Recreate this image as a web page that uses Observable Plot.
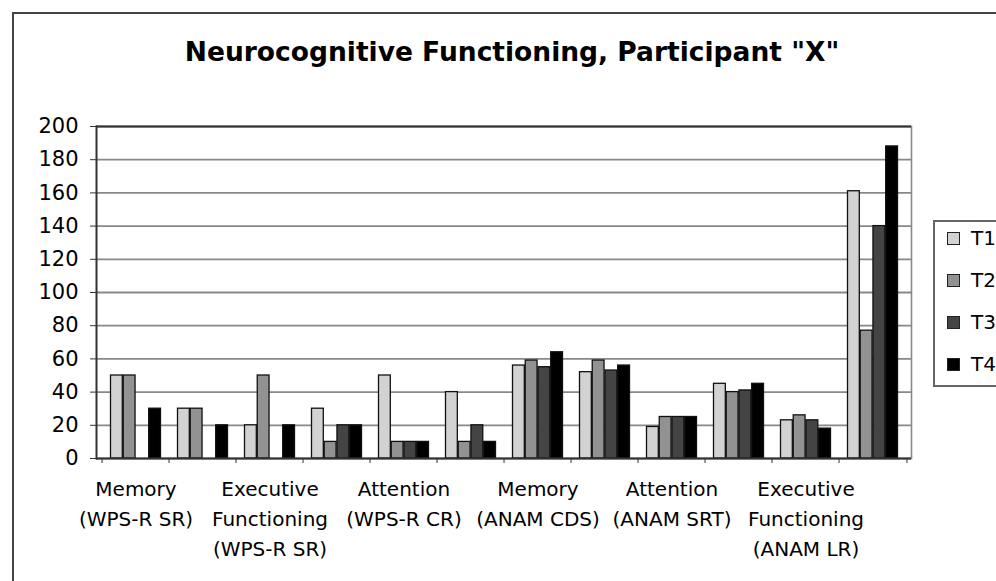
<!DOCTYPE html>
<html><head><meta charset="utf-8">
<script src="https://cdn.jsdelivr.net/npm/d3@7"></script>
<script src="https://cdn.jsdelivr.net/npm/@observablehq/plot@0.6"></script>
<style>
body{margin:0;background:#fff;}
#wrap{position:relative;width:996px;height:581px;overflow:hidden;font-family:"DejaVu Sans",sans-serif;color:#000;}
#frame{position:absolute;left:12px;top:12px;width:1100px;height:700px;border:2px solid #444;box-sizing:border-box;}
#chart{position:absolute;left:0;top:0;}
#title{position:absolute;left:512px;top:39px;transform:translateX(-50%);font-size:26.5px;font-weight:bold;line-height:26px;white-space:nowrap;}
#legend{position:absolute;left:933px;top:220px;width:100px;height:167px;border:2px solid #666;box-sizing:border-box;background:#fff;}
.item{position:absolute;left:12px;font-size:20px;line-height:20px;height:20px;display:flex;align-items:center;}
.sw{width:11px;height:11px;border:1px solid #222;margin-right:11px;}
</style></head>
<body><div id="wrap"><div id="frame"></div><div id="chart"></div><div id="title"></div><div id="legend"></div></div>
<script>
const title = 'Neurocognitive Functioning, Participant "X"';
const categories = ["c01","c02","c03","c04","c05","c06","c07","c08","c09","c10","c11","c12"];
const tickLabels = [
  "Memory\n(WPS-R SR)", "",
  "Executive\nFunctioning\n(WPS-R SR)", "",
  "Attention\n(WPS-R CR)", "",
  "Memory\n(ANAM CDS)", "",
  "Attention\n(ANAM SRT)", "",
  "Executive\nFunctioning\n(ANAM LR)", ""
];
const series = ["T1","T2","T3","T4"];
const colors = ["#d2d2d2","#929292","#444444","#000000"];
const t1 = [50, 30, 20, 30, 50, 40, 56, 52, 19, 45, 23, 161];
const t2 = [50, 30, 50, 10, 10, 10, 59, 59, 25, 40, 26, 77];
const t3 = [null, null, null, 20, 10, 20, 55, 53, 25, 41, 23, 140];
const t4 = [30, 20, 20, 20, 10, 10, 64, 56, 25, 45, 18, 188];
const yTicks = [0,20,40,60,80,100,120,140,160,180,200];

const values = [t1, t2, t3, t4];
const data = series.flatMap((s, j) => categories.map((c, i) => ({category: c, series: s, value: values[j][i]})));
const labelData = categories.map((c, i) => ({category: c, label: tickLabels[i]}));

const W = 996, H = 581, mL = 96, mR = 85, mT = 126, mB = 123;
const bw = (W - mL - mR) / categories.length;
const pad = 8.5;
const barW = (bw - 2 * pad) / series.length;
const dark = "#333";
const grid = "#888888";

const chart = Plot.plot({
  width: W, height: H,
  marginLeft: mL, marginRight: mR, marginTop: mT, marginBottom: mB,
  style: {fontFamily: "DejaVu Sans, sans-serif", fontSize: "20px", background: "transparent", color: "#000", overflow: "visible"},
  x: {type: "band", domain: categories, padding: 0},
  y: {domain: [0, 200]},
  color: {domain: series, range: colors},
  marks: [
    Plot.gridY(yTicks, {stroke: grid, strokeOpacity: 1, strokeWidth: 1.8}),
    Plot.frame({anchor: "right", stroke: grid, strokeWidth: 1.6}),
    ...series.map((s, j) => Plot.barY(data.filter(d => d.series === s && d.value != null), {
      x: "category", y: "value", fill: "series", stroke: "#111", strokeWidth: 1.3,
      insetLeft: pad + j * barW, insetRight: bw - pad - (j + 1) * barW
    })),
    Plot.ruleY([200], {stroke: dark, strokeWidth: 2}),
    Plot.ruleY([0], {stroke: dark, strokeWidth: 2}),
    Plot.frame({anchor: "left", stroke: dark, strokeWidth: 2}),
    Plot.axisY({ticks: yTicks, tickSize: 6, tickPadding: 12, fontSize: 21, label: null, stroke: dark}),
    Plot.axisX({ticks: categories, tickSize: 5, tickFormat: () => "", dx: -bw / 2, label: null, stroke: dark}),
    Plot.axisX({ticks: [categories[categories.length - 1]], tickSize: 5, tickFormat: () => "", dx: bw / 2, label: null, stroke: dark}),
    Plot.text(labelData, {x: "category", text: "label", frameAnchor: "bottom", lineAnchor: "top", dy: 16, fontSize: 20, lineHeight: 1.5, fill: "#000"})
  ]
});
document.getElementById("chart").appendChild(chart);
document.getElementById("title").textContent = title;

const legend = document.getElementById("legend");
series.forEach((s, j) => {
  const item = document.createElement("div");
  item.className = "item";
  item.style.top = (6 + j * 42) + "px";
  const sw = document.createElement("div");
  sw.className = "sw";
  sw.style.background = chart.scale("color").apply(s);
  const label = document.createElement("span");
  label.textContent = s;
  item.appendChild(sw); item.appendChild(label);
  legend.appendChild(item);
});
</script>
</body></html>
